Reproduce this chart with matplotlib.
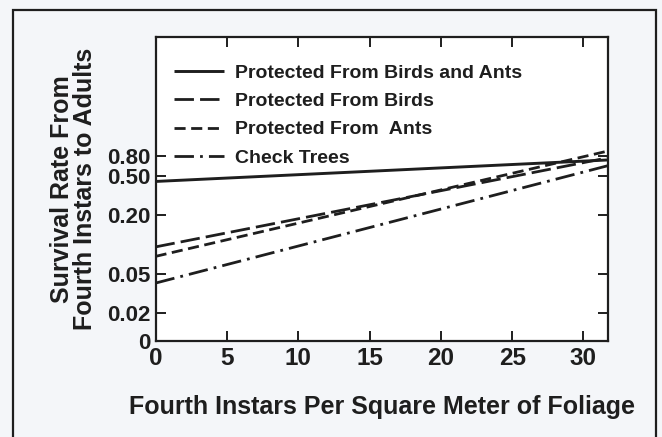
import matplotlib
matplotlib.use("Agg")
import matplotlib.pyplot as plt
from matplotlib.patches import Rectangle
from matplotlib.ticker import FixedLocator, NullLocator

plt.rcParams['font.family'] = ['Liberation Sans', 'DejaVu Sans']
plt.rcParams['font.weight'] = 'bold'

# fitted lines (straight on the transformed scale), end points at x = 0 and x = 32
x_ends = [0, 32]
both = [0.444, 0.74]       # protected from birds and ants
birds = [0.095, 0.79]      # protected from birds
ants = [0.076, 0.93]       # protected from ants
check = [0.0405, 0.66]     # check trees

yticks = [0.01035, 0.02, 0.05, 0.20, 0.50, 0.80]
ylabels = ['0', '0.02', '0.05', '0.20', '0.50', '0.80']
xticks = [0, 5, 10, 15, 20, 25, 30]

ink = '#1e1e1e'

fig = plt.figure(figsize=(6.62, 4.37), dpi=100, facecolor='#f4f6f9')
# outer frame of the scanned figure
fig.patches.append(Rectangle((0.0196, -0.1), 0.971, 1.077, transform=fig.transFigure,
                             fill=False, lw=1.6, ec=ink))
ax = fig.add_axes([0.235, 0.2197, 0.683, 0.696])
ax.set_facecolor('white')

ax.plot(x_ends, both, color=ink, lw=2.1, solid_capstyle='butt', label='Protected From Birds and Ants')
ax.plot(x_ends, birds, color=ink, lw=2.0, dashes=(7, 2.2), label='Protected From Birds')
ax.plot(x_ends, ants, color=ink, lw=2.0, dashes=(4, 2), label='Protected From  Ants')
ax.plot(x_ends, check, color=ink, lw=2.0, dashes=(7, 2.2, 1, 2.2), label='Check Trees')

ax.set_yscale('log')
ax.set_xlim(0, 31.7)
ax.set_ylim(0.01035, 13.4)
ax.yaxis.set_major_locator(FixedLocator(yticks))
ax.yaxis.set_minor_locator(NullLocator())
ax.set_yticklabels(ylabels)
ax.set_xticks(xticks)

for s in ax.spines.values():
    s.set_linewidth(1.6)
    s.set_color(ink)
ax.tick_params(direction='in', top=True, right=True, length=7, width=1.4,
               color=ink, labelcolor=ink)
ax.tick_params(axis='x', pad=4, labelsize=17.5)
ax.tick_params(axis='y', pad=4, labelsize=16)

ax.set_xlabel('Fourth Instars Per Square Meter of Foliage', fontsize=18,
              fontweight='bold', color=ink, labelpad=18)
ax.set_ylabel('Survival Rate From\nFourth Instars to Adults', fontsize=18,
              fontweight='bold', color=ink, labelpad=7, linespacing=0.95)

leg = ax.legend(loc='upper left', bbox_to_anchor=(0.04, 0.91), frameon=False,
                fontsize=14, handlelength=2.6, handletextpad=0.55, labelspacing=0.55,
                borderpad=0, borderaxespad=0)
for t in leg.get_texts():
    t.set_color(ink)

fig.savefig('out.png', dpi=100, facecolor=fig.get_facecolor())
